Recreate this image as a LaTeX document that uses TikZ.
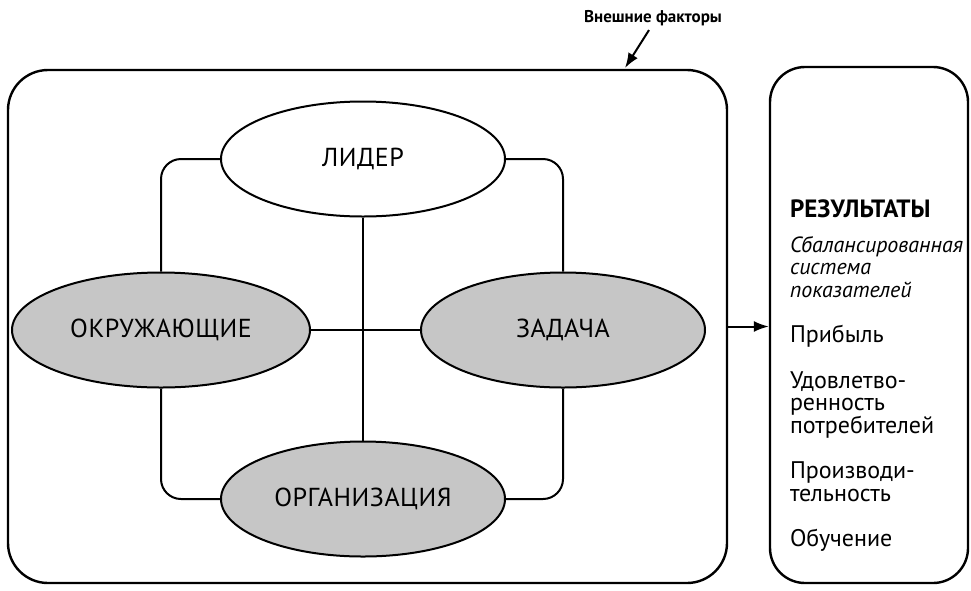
\documentclass[tikz,border=0pt]{standalone}
\usepackage{fontspec}
\setmainfont{PT Sans}
\newfontfamily\spacedfont[LetterSpace=2]{PT Sans}
\usetikzlibrary{arrows.meta,positioning,shapes.geometric}
\newcommand\tightlines{\lineskip=0pt\relax\lineskiplimit=-40pt\relax}

\begin{document}
\begin{tikzpicture}[x=1pt,y=-1pt,>={Latex[length=15pt,width=11pt]},line width=2pt,
  factor/.style={ellipse,draw,minimum width=284pt,minimum height=115pt,inner sep=0pt,
                 font=\spacedfont\fontsize{26}{28}\selectfont},
  shaded/.style={factor,fill=gray!45},
  frame/.style={draw,rounded corners=40pt,line width=2.4pt}]
		\useasboundingbox (0,0) rectangle (971,590);
		% frames
		\node[frame,minimum width=719pt,minimum height=513pt] (env) at (367.5,326.5) {};
		\node[frame,rounded corners=35pt,minimum width=198pt,minimum height=516pt] (res) at (869,325) {};
		% ellipses
		\node[factor]                          (lider) at (363,159) {ЛИДЕР};
		\node[shaded,minimum width=298pt]      (okr)   at (161,330) {ОКРУЖАЮЩИЕ};
		\node[shaded]                          (zad)   at (563,330) {ЗАДАЧА};
		\node[shaded]                          (org)   at (363,499) {ОРГАНИЗАЦИЯ};
		% links
		\draw[rounded corners=20pt] (lider.west) -| (okr.north);
		\draw[rounded corners=20pt] (lider.east) -| (zad.north);
		\draw[rounded corners=20pt] (okr.south) |- (org.west);
		\draw[rounded corners=20pt] (zad.south) |- (org.east);
		\draw (lider.south) -- (org.north);
		\draw (okr.east) -- (zad.west);
		% outside
		\node[font=\bfseries\fontsize{17}{19}\selectfont] (ext) at (653,18) {Внешние факторы};
		\coordinate (hit) at (625,68);
		\draw[->] ([xshift=-4pt]ext.south) -- (hit);
		\draw[->] (env.east) -- (res.west |- env.east);
		% results
		\node[anchor=north west,align=left,inner sep=0pt,
		      font=\fontsize{24}{22.5}\selectfont\tightlines] (list) at (789,199)
		  {{\bfseries\fontsize{25}{22.5}\selectfont РЕЗУЛЬТАТЫ}\\[12pt]
		   {\itshape\fontsize{22}{22.5}\selectfont Сбалансированная}\\
		   {\itshape\fontsize{22}{22.5}\selectfont система}\\
		   {\itshape\fontsize{22}{22.5}\selectfont показателей}\\[23pt]
		   Прибыль\\[23pt]
		   Удовлетво-\\ ренность\\ потребителей\\[23pt]
		   Производи-\\ тельность\\[23pt]
		   Обучение};
\end{tikzpicture}
\end{document}
